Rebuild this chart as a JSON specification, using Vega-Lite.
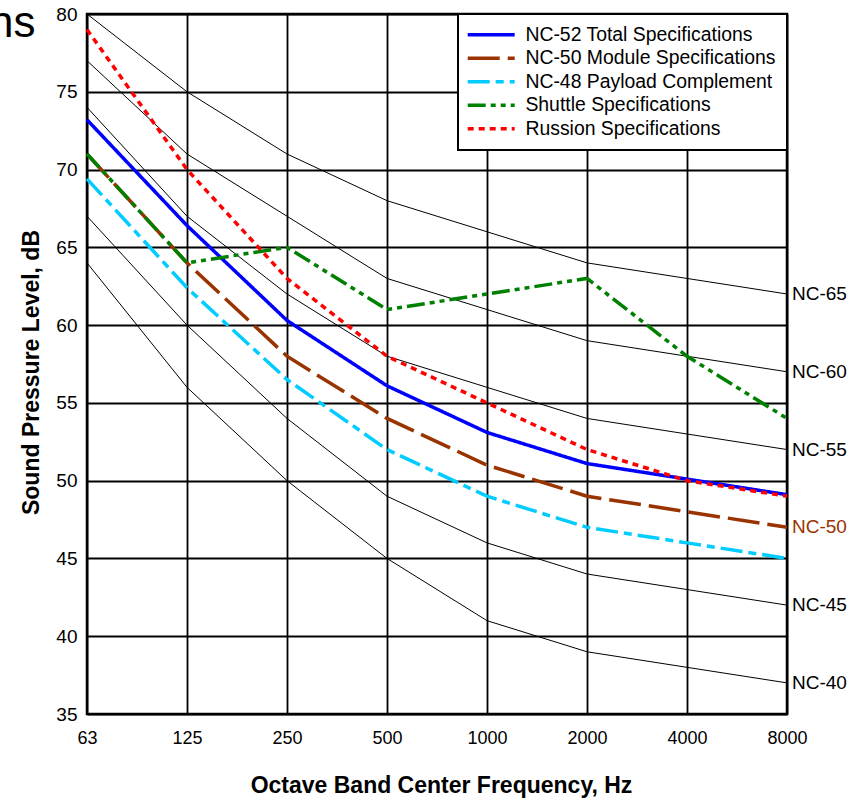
{
  "$schema": "https://vega.github.io/schema/vega-lite/v6.json",
  "autosize": {"type": "none"},
  "padding": {"left": 87, "top": 14, "right": 72, "bottom": 84},
  "width": 700,
  "height": 700,
  "background": "white",
  "title": {"text": "ns", "orient": "left", "anchor": "end", "frame": "group", "angle": 0, "align": "right", "baseline": "alphabetic", "dy": 23, "offset": -61, "fontSize": 44, "font": "Liberation Sans", "fontWeight": "normal", "color": "black"},
  "datasets": {
    "curves": [
      {"s": "NC-65", "k": "nc", "f": "63", "v": 80}, {"s": "NC-65", "k": "nc", "f": "125", "v": 75}, {"s": "NC-65", "k": "nc", "f": "250", "v": 71}, {"s": "NC-65", "k": "nc", "f": "500", "v": 68}, {"s": "NC-65", "k": "nc", "f": "1000", "v": 66}, {"s": "NC-65", "k": "nc", "f": "2000", "v": 64}, {"s": "NC-65", "k": "nc", "f": "4000", "v": 63}, {"s": "NC-65", "k": "nc", "f": "8000", "v": 62},
      {"s": "NC-60", "k": "nc", "f": "63", "v": 77}, {"s": "NC-60", "k": "nc", "f": "125", "v": 71}, {"s": "NC-60", "k": "nc", "f": "250", "v": 67}, {"s": "NC-60", "k": "nc", "f": "500", "v": 63}, {"s": "NC-60", "k": "nc", "f": "1000", "v": 61}, {"s": "NC-60", "k": "nc", "f": "2000", "v": 59}, {"s": "NC-60", "k": "nc", "f": "4000", "v": 58}, {"s": "NC-60", "k": "nc", "f": "8000", "v": 57},
      {"s": "NC-55", "k": "nc", "f": "63", "v": 74}, {"s": "NC-55", "k": "nc", "f": "125", "v": 67}, {"s": "NC-55", "k": "nc", "f": "250", "v": 62}, {"s": "NC-55", "k": "nc", "f": "500", "v": 58}, {"s": "NC-55", "k": "nc", "f": "1000", "v": 56}, {"s": "NC-55", "k": "nc", "f": "2000", "v": 54}, {"s": "NC-55", "k": "nc", "f": "4000", "v": 53}, {"s": "NC-55", "k": "nc", "f": "8000", "v": 52},
      {"s": "NC-45", "k": "nc", "f": "63", "v": 67}, {"s": "NC-45", "k": "nc", "f": "125", "v": 60}, {"s": "NC-45", "k": "nc", "f": "250", "v": 54}, {"s": "NC-45", "k": "nc", "f": "500", "v": 49}, {"s": "NC-45", "k": "nc", "f": "1000", "v": 46}, {"s": "NC-45", "k": "nc", "f": "2000", "v": 44}, {"s": "NC-45", "k": "nc", "f": "4000", "v": 43}, {"s": "NC-45", "k": "nc", "f": "8000", "v": 42},
      {"s": "NC-40", "k": "nc", "f": "63", "v": 64}, {"s": "NC-40", "k": "nc", "f": "125", "v": 56}, {"s": "NC-40", "k": "nc", "f": "250", "v": 50}, {"s": "NC-40", "k": "nc", "f": "500", "v": 45}, {"s": "NC-40", "k": "nc", "f": "1000", "v": 41}, {"s": "NC-40", "k": "nc", "f": "2000", "v": 39}, {"s": "NC-40", "k": "nc", "f": "4000", "v": 38}, {"s": "NC-40", "k": "nc", "f": "8000", "v": 37},
      {"s": "NC-52 Total Specifications", "k": "spec", "f": "63", "v": 73.2}, {"s": "NC-52 Total Specifications", "k": "spec", "f": "125", "v": 66.4}, {"s": "NC-52 Total Specifications", "k": "spec", "f": "250", "v": 60.3}, {"s": "NC-52 Total Specifications", "k": "spec", "f": "500", "v": 56.1}, {"s": "NC-52 Total Specifications", "k": "spec", "f": "1000", "v": 53.1}, {"s": "NC-52 Total Specifications", "k": "spec", "f": "2000", "v": 51.1}, {"s": "NC-52 Total Specifications", "k": "spec", "f": "4000", "v": 50.1}, {"s": "NC-52 Total Specifications", "k": "spec", "f": "8000", "v": 49.1},
      {"s": "NC-50 Module Specifications", "k": "spec", "f": "63", "v": 71}, {"s": "NC-50 Module Specifications", "k": "spec", "f": "125", "v": 64}, {"s": "NC-50 Module Specifications", "k": "spec", "f": "250", "v": 58}, {"s": "NC-50 Module Specifications", "k": "spec", "f": "500", "v": 54}, {"s": "NC-50 Module Specifications", "k": "spec", "f": "1000", "v": 51}, {"s": "NC-50 Module Specifications", "k": "spec", "f": "2000", "v": 49}, {"s": "NC-50 Module Specifications", "k": "spec", "f": "4000", "v": 48}, {"s": "NC-50 Module Specifications", "k": "spec", "f": "8000", "v": 47},
      {"s": "NC-48 Payload Complement", "k": "spec", "f": "63", "v": 69.4}, {"s": "NC-48 Payload Complement", "k": "spec", "f": "125", "v": 62.4}, {"s": "NC-48 Payload Complement", "k": "spec", "f": "250", "v": 56.5}, {"s": "NC-48 Payload Complement", "k": "spec", "f": "500", "v": 52}, {"s": "NC-48 Payload Complement", "k": "spec", "f": "1000", "v": 49}, {"s": "NC-48 Payload Complement", "k": "spec", "f": "2000", "v": 47}, {"s": "NC-48 Payload Complement", "k": "spec", "f": "4000", "v": 46}, {"s": "NC-48 Payload Complement", "k": "spec", "f": "8000", "v": 45},
      {"s": "Shuttle Specifications", "k": "spec", "f": "63", "v": 71}, {"s": "Shuttle Specifications", "k": "spec", "f": "125", "v": 64}, {"s": "Shuttle Specifications", "k": "spec", "f": "250", "v": 65}, {"s": "Shuttle Specifications", "k": "spec", "f": "500", "v": 61}, {"s": "Shuttle Specifications", "k": "spec", "f": "1000", "v": 62}, {"s": "Shuttle Specifications", "k": "spec", "f": "2000", "v": 63}, {"s": "Shuttle Specifications", "k": "spec", "f": "4000", "v": 58}, {"s": "Shuttle Specifications", "k": "spec", "f": "8000", "v": 54},
      {"s": "Russion Specifications", "k": "spec", "f": "63", "v": 79}, {"s": "Russion Specifications", "k": "spec", "f": "125", "v": 70}, {"s": "Russion Specifications", "k": "spec", "f": "250", "v": 63}, {"s": "Russion Specifications", "k": "spec", "f": "500", "v": 58}, {"s": "Russion Specifications", "k": "spec", "f": "1000", "v": 55}, {"s": "Russion Specifications", "k": "spec", "f": "2000", "v": 52}, {"s": "Russion Specifications", "k": "spec", "f": "4000", "v": 50}, {"s": "Russion Specifications", "k": "spec", "f": "8000", "v": 49}
    ],
    "labels": [
      {"t": "NC-65", "f": "8000", "v": 62},
      {"t": "NC-60", "f": "8000", "v": 57},
      {"t": "NC-55", "f": "8000", "v": 52},
      {"t": "NC-50", "f": "8000", "v": 47},
      {"t": "NC-45", "f": "8000", "v": 42},
      {"t": "NC-40", "f": "8000", "v": 37}
    ]
  },
  "encoding": {
    "x": {"field": "f", "type": "ordinal", "sort": ["63", "125", "250", "500", "1000", "2000", "4000", "8000"],
      "scale": {"type": "point", "padding": 0},
      "axis": {"title": "Octave Band Center Frequency, Hz", "labelAngle": 0, "labelPadding": 15, "labelFontSize": 18, "titlePadding": 27, "titleX": 354}},
    "y": {"field": "v", "type": "quantitative",
      "scale": {"domain": [35, 80], "nice": false, "zero": false},
      "axis": {"title": "Sound Pressure Level, dB", "values": [35, 40, 45, 50, 55, 60, 65, 70, 75, 80], "labelPadding": 10, "labelFontSize": 19, "titlePadding": 12, "titleY": 358}}
  },
  "layer": [
    {
      "data": {"name": "curves"},
      "transform": [{"filter": "datum.k == 'nc'"}],
      "mark": {"type": "line", "color": "black", "strokeWidth": 1},
      "encoding": {"detail": {"field": "s"}}
    },
    {
      "data": {"name": "curves"},
      "transform": [{"filter": "datum.k == 'spec'"}],
      "mark": {"type": "line", "strokeWidth": 3.5},
      "encoding": {
        "color": {"field": "s", "type": "nominal", "title": null,
          "scale": {"domain": ["NC-52 Total Specifications", "NC-50 Module Specifications", "NC-48 Payload Complement", "Shuttle Specifications", "Russion Specifications"],
            "range": ["#0000ff", "#993300", "#00ccff", "#008000", "#ff0000"]}},
        "strokeDash": {"field": "s", "type": "nominal", "title": null,
          "scale": {"domain": ["NC-52 Total Specifications", "NC-50 Module Specifications", "NC-48 Payload Complement", "Shuttle Specifications", "Russion Specifications"],
            "range": [[1, 0], [32, 8], [22, 6, 8, 6], [18, 5, 5, 5, 5, 5], [6, 5]]}}
      }
    },
    {
      "data": {"name": "labels"},
      "mark": {"type": "text", "align": "left", "dx": 5, "font": "Liberation Sans", "fontSize": 19},
      "encoding": {
        "text": {"field": "t"},
        "color": {"condition": {"test": "datum.t == 'NC-50'", "value": "#993300"}, "value": "black"}
      }
    }
  ],
  "config": {
    "view": {"stroke": "black", "strokeWidth": 2.5},
    "axis": {"domain": false, "ticks": false, "grid": true, "gridColor": "black", "gridWidth": 1.8, "gridOpacity": 1,
      "labelFont": "Liberation Sans", "labelColor": "black",
      "titleFont": "Liberation Sans", "titleFontSize": 23, "titleFontWeight": "bold", "titleColor": "black"},
    "legend": {"orient": "top-right", "offset": 0, "strokeColor": "black", "strokeWidth": 2, "fillColor": "white",
      "padding": 11, "symbolType": "M-2.2,0H7.2", "symbolSize": 100, "symbolStrokeWidth": 3.5,
      "labelFont": "Liberation Sans", "labelFontSize": 19.4, "labelColor": "black", "labelOffset": 37, "labelLimit": 400, "rowPadding": 2.5}
  }
}
